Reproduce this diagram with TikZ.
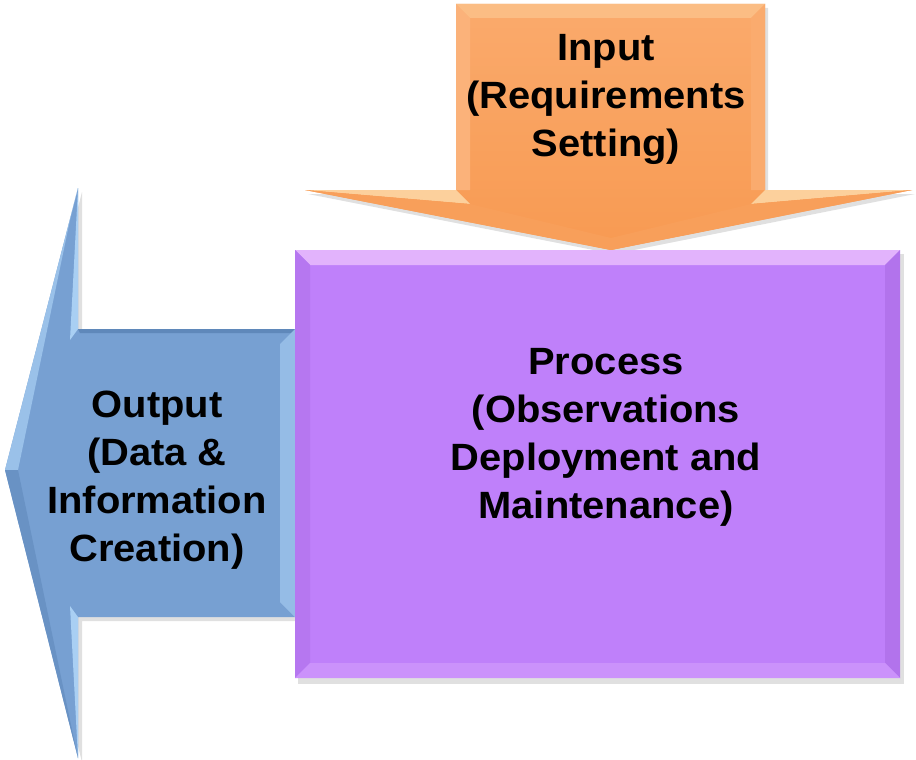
\documentclass[tikz,border=0pt]{standalone}
\usepackage{fontspec}
\setmainfont{Liberation Sans}
\newfontfamily\lblfont[FakeStretch=1.05]{Liberation Sans}
\begin{document}
\begin{tikzpicture}[x=1pt,y=-1pt,
  lbl/.style={align=center,inner sep=0pt,font=\lblfont\bfseries\fontsize{38}{48}\selectfont,text=black},
  shadowpath/.style={fill=black,opacity=0.12}]
\definecolor{orangemain}{HTML}{F89A52}
\definecolor{orangelight}{HTML}{FAAA6C}
\definecolor{orangehi}{HTML}{FCD09C}
\definecolor{orangeside}{HTML}{FBB27A}
\definecolor{purplemain}{HTML}{BF80FA}
\definecolor{purplelight}{HTML}{E2B3FC}
\definecolor{purpledark}{HTML}{B273EC}
\definecolor{bluemain}{HTML}{77A0D2}
\definecolor{bluelight}{HTML}{A9CFF3}
\definecolor{bluedark}{HTML}{5F88BA}
\useasboundingbox (0,0) rectangle (916,760);
\fill[white] (0,0) rectangle (916,760);

% ---------------- Output arrow (blue, pointing left)
\fill[shadowpath] (10,474) -- (82,192) -- (82,333) -- (299,333) -- (299,621) -- (82,621) -- (82,762) -- cycle;
\fill[bluemain] (5,470) -- (78,188) -- (78,329) -- (295,329) -- (295,617) -- (78,617) -- (78,758) -- cycle;
% bevels
\fill[bluelight] (78,188) -- (78,329) -- (70,340) -- cycle;
\fill[bluelight] (78,617) -- (78,758) -- (70,606) -- cycle;
\fill[bluelight!70!bluemain] (5,470) -- (78,188) -- (70,220) -- (18,470) -- cycle;
\fill[bluedark] (78,329) -- (295,329) -- (295,333) -- (80,333) -- cycle;
\fill[bluelight!60!bluemain] (280,344) -- (295,329) -- (295,617) -- (280,602) -- cycle;
\fill[bluedark!60!bluemain] (5,470) -- (18,470) -- (70,720) -- (78,758) -- cycle;

% ---------------- Input arrow (orange, pointing down)
\fill[shadowpath] (459,8) -- (768,8) -- (768,194) -- (915,194) -- (614,254) -- (308,194) -- (459,194) -- cycle;
\shade[top color=orangelight,bottom color=orangemain] (456,4) -- (765,4) -- (765,190) -- (912,190) -- (611,250) -- (305,190) -- (456,190) -- cycle;
% bevels
\fill[orangeside] (456,4) -- (470,18) -- (470,190) -- (456,190) -- cycle;
\fill[orangehi!50!orangelight] (456,4) -- (765,4) -- (751,18) -- (470,18) -- cycle;
\fill[orangeside!70!orangemain] (765,4) -- (765,190) -- (751,190) -- (751,18) -- cycle;
\fill[orangehi] (305,190) -- (456,190) -- (470,204) -- cycle;
\fill[orangehi] (912,190) -- (765,190) -- (751,204) -- cycle;
\fill[orangemain!90!orangehi] (305,190) -- (470,204) -- (611,238) -- (611,250) -- cycle;
\fill[orangemain!90!orangehi] (912,190) -- (751,204) -- (611,238) -- (611,250) -- cycle;

% ---------------- Process box (purple)
\fill[shadowpath] (298,254) rectangle (904,684);
\fill[purplemain] (295,250) rectangle (900,678);
\fill[purplelight] (295,250) -- (900,250) -- (885,265) -- (310,265) -- cycle;
\fill[purpledark!70!purplemain] (295,250) -- (310,265) -- (310,663) -- (295,678) -- cycle;
\fill[purpledark] (900,250) -- (885,265) -- (885,663) -- (900,678) -- cycle;
\fill[purplelight!35!purplemain] (295,678) -- (310,663) -- (885,663) -- (900,678) -- cycle;

% ---------------- Labels
\node[lbl] (input) at (606,99) {Input\\(Requirements\\Setting)};
\node[lbl] (process) at (606,437) {Process\\(Observations\\Deployment and\\Maintenance)};
\node[lbl] (output) at (157,480) {Output\\(Data \&\\Information\\Creation)};
\end{tikzpicture}
\end{document}
